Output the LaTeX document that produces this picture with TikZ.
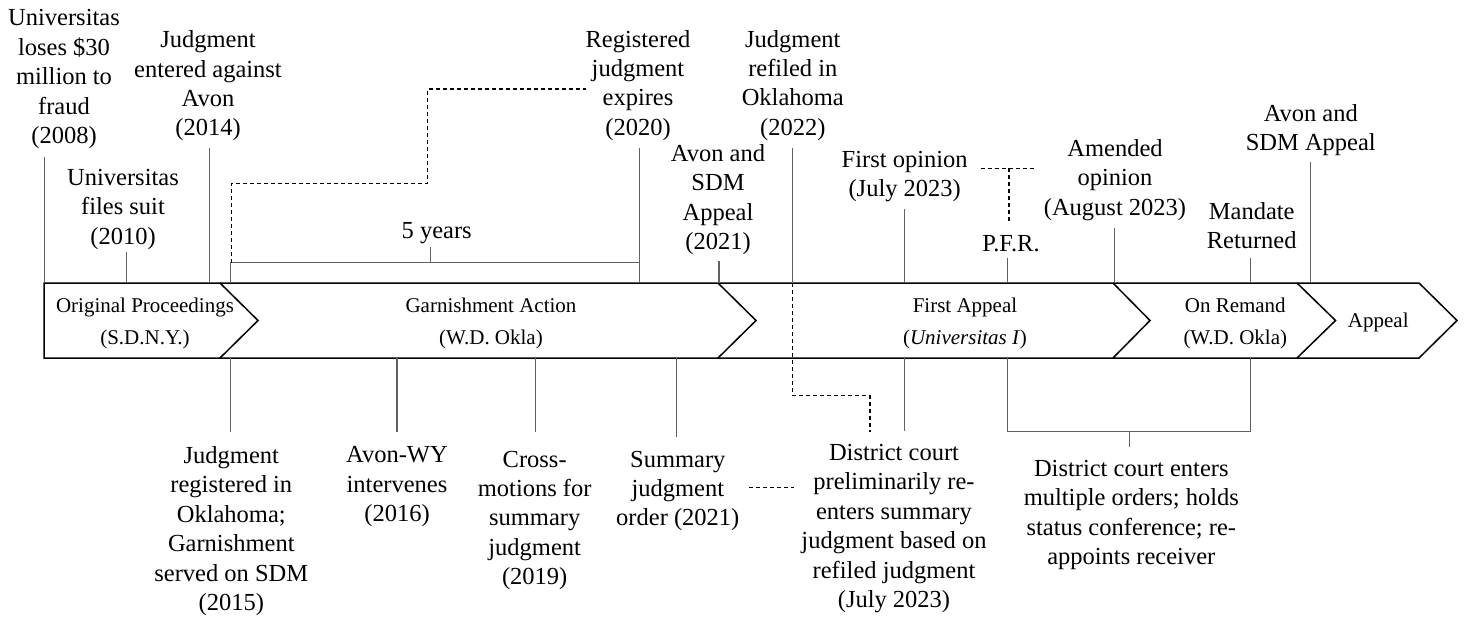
\documentclass[tikz,border=0pt]{standalone}
\usepackage{fontspec}
\setmainfont{Liberation Serif}
\begin{document}
\begin{tikzpicture}[x=1pt,y=-1pt,
  lab/.style={font=\fontsize{24.5}{29.4}\selectfont, align=center, inner sep=0pt, anchor=north},
  band/.style={font=\fontsize{21}{32}\selectfont, align=center, inner sep=0pt},
  tick/.style={draw=black!62, line width=1.2pt},
  frame/.style={draw=black, line width=1.5pt, line join=miter},
  link/.style={draw=black, line width=1.1pt, dash pattern=on 4pt off 3pt}]
\useasboundingbox (0,0) rectangle (1465,618);

% ---- banner ----
\draw[frame] (44,283) -- (1419,283) -- (1457,320.5) -- (1419,358) -- (44,358) -- cycle;
\foreach \a/\b in {220/258, 718/756, 1113/1150, 1297/1335.5}
  \draw[frame] (\a,283) -- (\b,320.5) -- (\a,358);

\node[band] (orig) at (145,323) {Original Proceedings\\(S.D.N.Y.)};
\node[band] (garn) at (491,323) {Garnishment Action\\(W.D. Okla)};
\node[band] (first) at (965,323) {First Appeal\\(\textit{Universitas I})};
\node[band] (remand) at (1235.3,323) {On Remand\\(W.D. Okla)};
\node[band, anchor=base] (appeal) at (1378.3,327.3) {Appeal};

% ---- top labels ----
\node[lab] (l2008) at (64,9.5) {Universitas\\loses \$30\\million to\\fraud\\(2008)};
\node[lab] (l2010) at (123,169) {Universitas\\files suit\\(2010)};
\node[lab] (l2014) at (208,30.6) {Judgment\\entered against\\Avon\\(2014)};
\node[lab] (l5y) at (436.7,222) {5 years};
\node[lab] (l2020) at (638,30) {Registered\\judgment\\expires\\(2020)};
\node[lab] (l2021) at (718,144) {Avon and\\SDM\\Appeal\\(2021)};
\node[lab] (l2022) at (792.8,30) {Judgment\\refiled in\\Oklahoma\\(2022)};
\node[lab] (lfirst) at (904.7,151) {First opinion\\(July 2023)};
\node[lab] (lpfr) at (1011,235.5) {P.F.R.};
\node[lab] (lamend) at (1115,139) {Amended\\opinion\\(August 2023)};
\node[lab] (lmand) at (1251.7,202.3) {Mandate\\Returned};
\node[lab] (lavon) at (1310.8,104) {Avon and\\SDM Appeal};

% ---- bottom labels ----
\node[lab] (l2015) at (231.3,446.3) {Judgment\\registered in\\Oklahoma;\\Garnishment\\served on SDM\\(2015)};
\node[lab] (l2016) at (397,446.6) {Avon-WY\\intervenes\\(2016)};
\node[lab] (l2019) at (534.7,450.6) {Cross-\\motions for\\summary\\judgment\\(2019)};
\node[lab] (lsj) at (677.8,450.6) {Summary\\judgment\\order (2021)};
\node[lab] (lprelim) at (894,444) {District court\\preliminarily re-\\enters summary\\judgment based on\\refiled judgment\\(July 2023)};
\node[lab] (lremand) at (1131.3,460) {District court enters\\multiple orders; holds\\status conference; re-\\appoints receiver};

% ---- connector end points ----
\coordinate (a2008) at (44.5,157);   \coordinate (b2008) at (44.5,283);
\coordinate (a2010) at (126.7,252);  \coordinate (b2010) at (126.7,283);
\coordinate (a2014) at (209.3,148);  \coordinate (b2014) at (209.3,283);
\coordinate (yl) at (230.7,262.7);   \coordinate (ylb) at (230.7,283);
\coordinate (yr) at (639.3,262.7);
\coordinate (ym) at (430.7,262.7);   \coordinate (yt) at (430.7,246.7);
\coordinate (a2020) at (639.3,148);  \coordinate (b2020) at (639.3,283);
\coordinate (a2021) at (719,261);    \coordinate (b2021) at (719,283);
\coordinate (a2022) at (792.7,148);  \coordinate (b2022) at (792.7,283);
\coordinate (afirst) at (904.7,209); \coordinate (bfirst) at (904.7,283);
\coordinate (apfr) at (1007.3,258);  \coordinate (bpfr) at (1007.3,283);
\coordinate (aamend) at (1114.3,228);\coordinate (bamend) at (1114.3,283);
\coordinate (amand) at (1250.3,258); \coordinate (bmand) at (1250.3,283);
\coordinate (aavon) at (1310.3,162); \coordinate (bavon) at (1310.3,283);

\coordinate (c2015) at (230.7,358);  \coordinate (d2015) at (230.7,431.7);
\coordinate (c2016) at (397,358);    \coordinate (d2016) at (397,431.7);
\coordinate (c2019) at (535.7,358);  \coordinate (d2019) at (535.7,431.7);
\coordinate (csj) at (676.7,358);    \coordinate (dsj) at (676.7,436.7);
\coordinate (cprelim) at (904.7,358);\coordinate (dprelim) at (904.7,431);
\coordinate (crl) at (1007.3,358);   \coordinate (drl) at (1007.3,431.7);
\coordinate (crr) at (1250.3,358);   \coordinate (drr) at (1250.3,431.7);
\coordinate (drm) at (1129.3,431.7); \coordinate (erm) at (1129.3,447.3);

% ---- solid ticks ----
\draw[tick] (a2008) -- (b2008);
\draw[tick] (a2010) -- (b2010);
\draw[tick] (a2014) -- (b2014);
\draw[tick] (ylb) -- (yl) -- (yr);
\draw[tick] (yt) -- (ym);
\draw[tick] (a2020) -- (b2020);
\draw[tick] (a2021) -- (b2021);
\draw[tick] (a2022) -- (b2022);
\draw[tick] (afirst) -- (bfirst);
\draw[tick] (apfr) -- (bpfr);
\draw[tick] (aamend) -- (bamend);
\draw[tick] (amand) -- (bmand);
\draw[tick] (aavon) -- (bavon);

\draw[tick] (c2015) -- (d2015);
\draw[tick] (c2016) -- (d2016);
\draw[tick] (c2019) -- (d2019);
\draw[tick] (csj) -- (dsj);
\draw[tick] (cprelim) -- (dprelim);
\draw[tick] (crl) -- (drl) -- (drr) -- (crr);
\draw[tick] (drm) -- (erm);

% ---- dashed links ----
\coordinate (k1) at (231.7,183.3);
\coordinate (k2) at (427.7,183.3);
\coordinate (k3) at (427.7,89);
\coordinate (k4) at (586,89);
\draw[link] (231.7,262.7) -- (k1) -- (k2) -- (k3) -- (k4);

\coordinate (m1) at (792.7,395.7);
\coordinate (m2) at (870,395.7);
\coordinate (m3) at (870,431.7);
\draw[link] (b2022) -- (m1) -- (m2) -- (m3);

\coordinate (s1) at (749.3,487.7);
\coordinate (s2) at (794.3,487.7);
\draw[link] (s1) -- (s2);

\coordinate (p1) at (980.7,168.3);
\coordinate (p2) at (1034,168.3);
\coordinate (p3) at (1009,168.3);
\coordinate (p4) at (1009,222.3);
\draw[link] (p1) -- (p2);
\draw[link] (p3) -- (p4);
\end{tikzpicture}
\end{document}
